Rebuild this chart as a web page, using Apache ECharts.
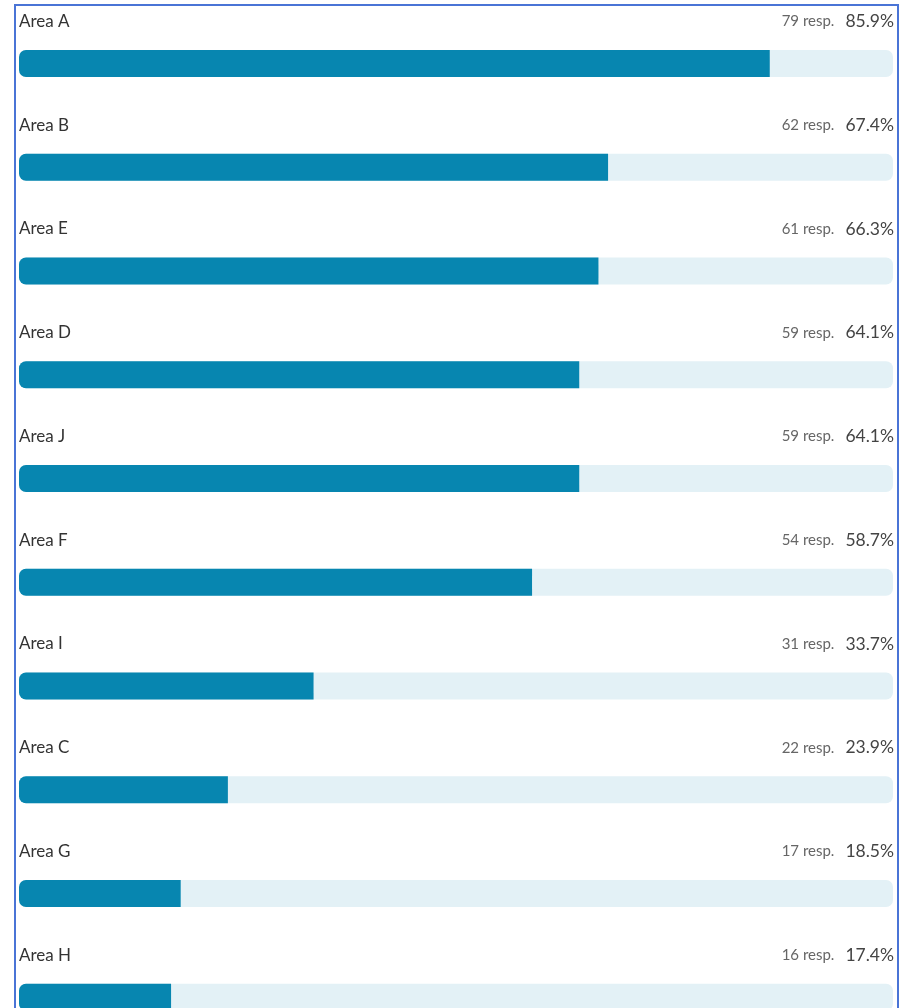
<!DOCTYPE html>
<html>
<head>
<meta charset="utf-8">
<script src="https://cdn.jsdelivr.net/npm/echarts@6/dist/echarts.min.js"></script>
<style>
html,body{margin:0;padding:0;background:#fff;}
#chart{width:903px;height:1008px;}
</style>
</head>
<body>
<div id="chart"></div>
<script>
const categories = ['Area A','Area B','Area E','Area D','Area J','Area F','Area I','Area C','Area G','Area H'];
const responses = [79,62,61,59,59,54,31,22,17,16];
const percents = [85.9,67.4,66.3,64.1,64.1,58.7,33.7,23.9,18.5,17.4];
const trackValues = categories.map(() => 100);

const chart = echarts.init(document.getElementById('chart'));
const FONT = 'Lato, "Open Sans", sans-serif';
const TRACK_W = 874;
chart.setOption({
  animation: false,
  grid: { left: 19, top: 63.5, width: TRACK_W, height: 933.75, containLabel: false },
  xAxis: { type: 'value', min: 0, max: 100, show: false },
  yAxis: { type: 'category', data: categories, inverse: true, show: false, boundaryGap: false },
  graphic: [{
    type: 'rect', shape: { x: 15, y: 5, width: 883, height: 1020 },
    style: { fill: 'none', stroke: '#4a74d6', lineWidth: 2 }, z: 100
  }],
  series: [
    {
      type: 'bar', data: trackValues, barWidth: 27, barGap: '-100%',
      itemStyle: { color: '#e3f1f6', borderRadius: 7 },
      silent: true, z: 1,
      label: {
        show: true, position: [0, -28.5], align: 'left', verticalAlign: 'middle',
        fontFamily: FONT, fontSize: 17, color: '#333',
        formatter: p => categories[p.dataIndex]
      }
    },
    {
      type: 'bar', data: trackValues, barWidth: 27, barGap: '-100%',
      itemStyle: { color: 'rgba(0,0,0,0)' },
      silent: true, z: 1,
      label: {
        show: true, position: [TRACK_W + 1, -28.5], align: 'right', verticalAlign: 'middle',
        fontFamily: FONT,
        formatter: p => '{r|' + responses[p.dataIndex] + ' resp.}{p|' + percents[p.dataIndex].toFixed(1) + '%}',
        rich: {
          r: { fontFamily: FONT, fontSize: 15, color: '#666', padding: [0, 11, 0, 0] },
          p: { fontFamily: FONT, fontSize: 17.5, color: '#444' }
        }
      }
    },
    {
      type: 'bar', data: percents, barWidth: 27, barGap: '-100%',
      itemStyle: { color: '#0786b0', borderRadius: [7, 0, 0, 7] },
      z: 2
    }
  ]
});
</script>
</body>
</html>
